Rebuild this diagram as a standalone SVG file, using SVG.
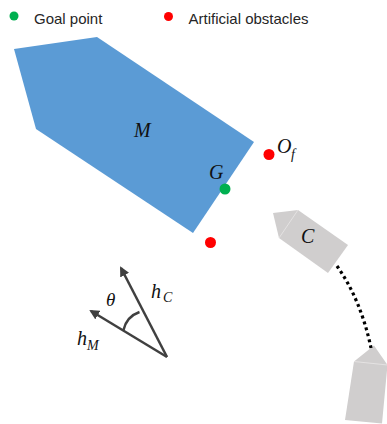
<svg xmlns="http://www.w3.org/2000/svg" width="387" height="424" viewBox="0 0 387 424">
<style>
.leg{font-family:"Liberation Sans",Arial,sans-serif;font-size:15px;fill:#262626}
.math{font-family:"Liberation Serif","Times New Roman",serif;font-style:italic;fill:#111}
.sub{font-size:14px}
.ship{fill:#d0cece}
.seam{stroke:#e4e2e2;stroke-width:1;fill:none}
.arr{stroke:#404040;stroke-width:2.5;fill:none}
</style>
<defs>
<marker id="ah" viewBox="0 0 10 10" refX="8" refY="5" markerWidth="4" markerHeight="4" orient="auto" markerUnits="strokeWidth">
<path d="M0,0 L10,5 L0,10 z" fill="#404040"/>
</marker>
</defs>
<rect width="387" height="424" fill="#fff"/>
<g id="legend">
<circle cx="14" cy="16" r="4.5" fill="#00b050"/>
<text class="leg" x="34" y="24">Goal point</text>
<circle cx="168.5" cy="16.5" r="4.5" fill="#ff0000"/>
<text class="leg" x="188.5" y="24">Artificial obstacles</text>
</g>
<g id="ship-M">
<polygon points="14,49 97,37 254,142 193,233 36,129" fill="#5b9bd5"/>
<text class="math" x="134" y="137" font-size="20">M</text>
</g>
<g id="goal-G">
<text class="math" x="209" y="179" font-size="20">G</text>
<circle cx="225" cy="189" r="5.5" fill="#00b050"/>
</g>
<g id="obstacle-Of">
<circle cx="269" cy="154.5" r="5.5" fill="#ff0000"/>
<text class="math" x="277" y="153" font-size="20">O</text>
<text class="math sub" x="291" y="159">f</text>
</g>
<g id="obstacle-2">
<circle cx="210.5" cy="242.5" r="5.5" fill="#ff0000"/>
</g>
<g id="ship-C">
<polygon class="ship" points="273,213 298,210 348,245 328,273 279,238"/>
<line class="seam" x1="298" y1="210" x2="279" y2="238"/>
<text class="math" x="301" y="243" font-size="20">C</text>
</g>
<g id="ship-C-start">
<polygon class="ship" points="374,345.5 387.5,365 382,423.5 345,420 354,361.5"/>
<line class="seam" x1="354" y1="361.5" x2="387.5" y2="365"/>
</g>
<g id="connectors">
<path d="M337,266 Q361,300 371,348" stroke="#000" stroke-width="3.2" stroke-dasharray="3 3.2" fill="none"/>
<line class="arr" x1="167" y1="357" x2="121" y2="268" marker-end="url(#ah)"/>
<line class="arr" x1="167" y1="357" x2="91" y2="311" marker-end="url(#ah)"/>
<path class="arr" d="M123.5,330 A25 25 0 0 1 139.5,312" stroke-width="1.5"/>
</g>
<g id="angle-labels">
<text class="math" x="106" y="306" font-size="19">θ</text>
<text class="math" x="151" y="298" font-size="20">h</text>
<text class="math sub" x="163" y="302">C</text>
<text class="math" x="77" y="345" font-size="20">h</text>
<text class="math sub" x="87" y="350">M</text>
</g>
</svg>
